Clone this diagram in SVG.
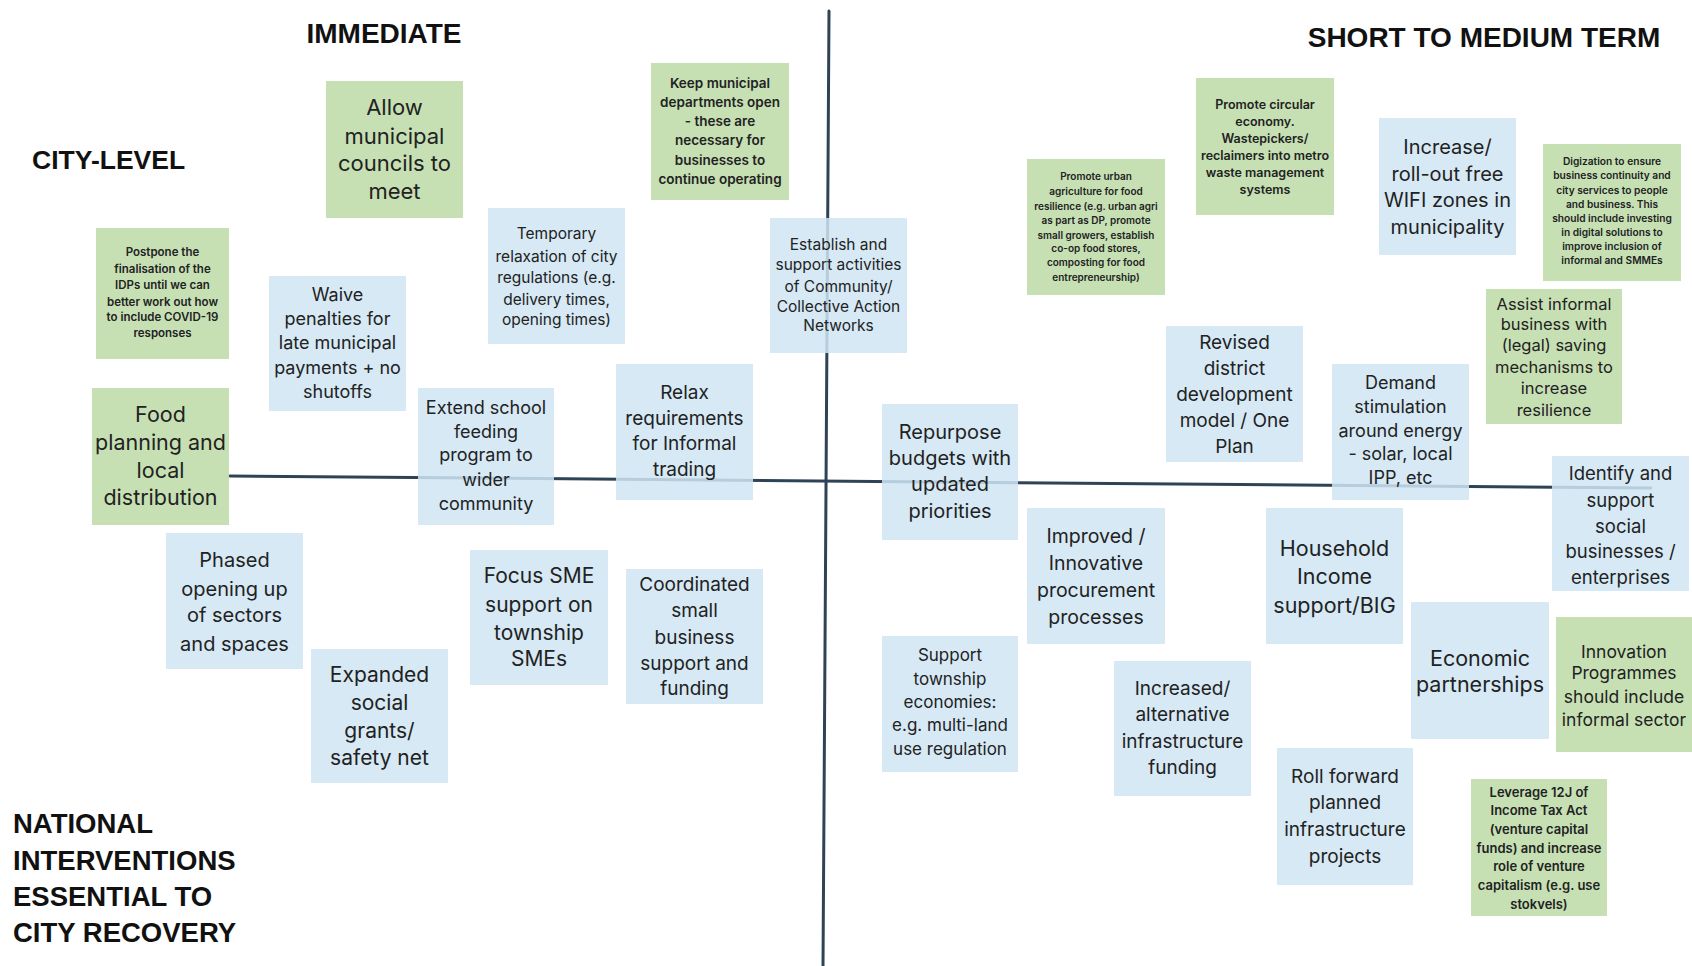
<svg xmlns="http://www.w3.org/2000/svg" width="1692" height="966" viewBox="0 0 1692 966">
<style>
.bg{fill:#ffffff}
.ax{stroke:#2f4356;stroke-width:3;fill:none;stroke-linecap:round}
.g{fill:#bcdba7;fill-opacity:0.85}
.b{fill:#cfe5f3;fill-opacity:0.85}
.t{font-family:Inter,"Open Sans","Liberation Sans",sans-serif;fill:#222222;text-anchor:middle}
.s{font-weight:600}
.h{font-family:"Liberation Sans",Arial,sans-serif;font-weight:bold;fill:#111111}
</style>
<rect class="bg" x="0" y="0" width="1692" height="966"/>
<g id="headings">
<text class="h" x="384" y="43" font-size="28" text-anchor="middle">IMMEDIATE</text>
<text class="h" x="1484" y="47" font-size="28" text-anchor="middle">SHORT TO MEDIUM TERM</text>
<text class="h" x="32" y="169" font-size="26.5">CITY-LEVEL</text>
<text class="h" x="13" font-size="27.5"><tspan x="13" y="833">NATIONAL</tspan><tspan x="13" y="870">INTERVENTIONS</tspan><tspan x="13" y="906">ESSENTIAL TO</tspan><tspan x="13" y="942">CITY RECOVERY</tspan></text>
</g>
<g id="connectors">
<line class="ax" x1="829" y1="11" x2="823" y2="966"/>
<line class="ax" x1="230" y1="476" x2="1651" y2="488"/>
</g>
<g id="n1"><rect class="g" x="326" y="81" width="137" height="137"/><text class="t" font-size="22"><tspan x="394.5" y="115">Allow</tspan><tspan x="394.5" y="144">municipal</tspan><tspan x="394.5" y="171">councils to</tspan><tspan x="394.5" y="199">meet</tspan></text></g>
<g id="n2"><rect class="g" x="651" y="63" width="138" height="137"/><text class="t s" font-size="13.5"><tspan x="720" y="88">Keep municipal</tspan><tspan x="720" y="107">departments open</tspan><tspan x="720" y="126">- these are</tspan><tspan x="720" y="145">necessary for</tspan><tspan x="720" y="165">businesses to</tspan><tspan x="720" y="184">continue operating</tspan></text></g>
<g id="n3"><rect class="g" x="96" y="228" width="133" height="131"/><text class="t s" font-size="11.5"><tspan x="162.5" y="256">Postpone the</tspan><tspan x="162.5" y="273">finalisation of the</tspan><tspan x="162.5" y="289">IDPs until we can</tspan><tspan x="162.5" y="306">better work out how</tspan><tspan x="162.5" y="321">to include COVID-19</tspan><tspan x="162.5" y="337">responses</tspan></text></g>
<g id="n4"><rect class="b" x="269" y="276" width="137" height="135"/><text class="t" font-size="18"><tspan x="337.5" y="301">Waive</tspan><tspan x="337.5" y="325">penalties for</tspan><tspan x="337.5" y="349">late municipal</tspan><tspan x="337.5" y="374">payments + no</tspan><tspan x="337.5" y="398">shutoffs</tspan></text></g>
<g id="n5"><rect class="b" x="488" y="208" width="137" height="136"/><text class="t" font-size="15.5"><tspan x="556.5" y="239">Temporary</tspan><tspan x="556.5" y="262">relaxation of city</tspan><tspan x="556.5" y="283">regulations (e.g.</tspan><tspan x="556.5" y="305">delivery times,</tspan><tspan x="556.5" y="325">opening times)</tspan></text></g>
<g id="n6"><rect class="b" x="770" y="218" width="137" height="135"/><text class="t" font-size="15.5"><tspan x="838.5" y="250">Establish and</tspan><tspan x="838.5" y="270">support activities</tspan><tspan x="838.5" y="292">of Community/</tspan><tspan x="838.5" y="312">Collective Action</tspan><tspan x="838.5" y="331">Networks</tspan></text></g>
<g id="n7"><rect class="g" x="92" y="388" width="137" height="137"/><text class="t" font-size="21.5"><tspan x="160.5" y="422">Food</tspan><tspan x="160.5" y="450">planning and</tspan><tspan x="160.5" y="478">local</tspan><tspan x="160.5" y="505">distribution</tspan></text></g>
<g id="n8"><rect class="b" x="418" y="388" width="136" height="137"/><text class="t" font-size="18"><tspan x="486" y="414">Extend school</tspan><tspan x="486" y="438">feeding</tspan><tspan x="486" y="461">program to</tspan><tspan x="486" y="486">wider</tspan><tspan x="486" y="510">community</tspan></text></g>
<g id="n9"><rect class="b" x="616" y="364" width="137" height="136"/><text class="t" font-size="19"><tspan x="684.5" y="399">Relax</tspan><tspan x="684.5" y="425">requirements</tspan><tspan x="684.5" y="450">for Informal</tspan><tspan x="684.5" y="476">trading</tspan></text></g>
<g id="n10"><rect class="b" x="166" y="533" width="137" height="136"/><text class="t" font-size="20"><tspan x="234.5" y="567">Phased</tspan><tspan x="234.5" y="596">opening up</tspan><tspan x="234.5" y="622">of sectors</tspan><tspan x="234.5" y="651">and spaces</tspan></text></g>
<g id="n11"><rect class="b" x="470" y="550" width="138" height="135"/><text class="t" font-size="21"><tspan x="539" y="583">Focus SME</tspan><tspan x="539" y="612">support on</tspan><tspan x="539" y="640">township</tspan><tspan x="539" y="666">SMEs</tspan></text></g>
<g id="n12"><rect class="b" x="626" y="569" width="137" height="135"/><text class="t" font-size="19"><tspan x="694.5" y="591">Coordinated</tspan><tspan x="694.5" y="617">small</tspan><tspan x="694.5" y="644">business</tspan><tspan x="694.5" y="670">support and</tspan><tspan x="694.5" y="695">funding</tspan></text></g>
<g id="n13"><rect class="b" x="311" y="649" width="137" height="134"/><text class="t" font-size="21"><tspan x="379.5" y="682">Expanded</tspan><tspan x="379.5" y="710">social</tspan><tspan x="379.5" y="738">grants/</tspan><tspan x="379.5" y="765">safety net</tspan></text></g>
<g id="n14"><rect class="g" x="1027" y="159" width="138" height="136"/><text class="t s" font-size="10"><tspan x="1096" y="180">Promote urban</tspan><tspan x="1096" y="195">agriculture for food</tspan><tspan x="1096" y="210">resilience (e.g. urban agri</tspan><tspan x="1096" y="224">as part as DP, promote</tspan><tspan x="1096" y="239">small growers, establish</tspan><tspan x="1096" y="252">co-op food stores,</tspan><tspan x="1096" y="266">composting for food</tspan><tspan x="1096" y="281">entrepreneurship)</tspan></text></g>
<g id="n15"><rect class="g" x="1196" y="78" width="138" height="137"/><text class="t s" font-size="12.5"><tspan x="1265" y="108.5">Promote circular</tspan><tspan x="1265" y="125.5">economy.</tspan><tspan x="1265" y="142.5">Wastepickers/</tspan><tspan x="1265" y="159.5">reclaimers into metro</tspan><tspan x="1265" y="176.5">waste management</tspan><tspan x="1265" y="193.5">systems</tspan></text></g>
<g id="n16"><rect class="b" x="1379" y="118" width="137" height="137"/><text class="t" font-size="20"><tspan x="1447.5" y="154">Increase/</tspan><tspan x="1447.5" y="181">roll-out free</tspan><tspan x="1447.5" y="207">WIFI zones in</tspan><tspan x="1447.5" y="234">municipality</tspan></text></g>
<g id="n17"><rect class="g" x="1543" y="144" width="138" height="137"/><text class="t s" font-size="10.2"><tspan x="1612" y="165">Digization to ensure</tspan><tspan x="1612" y="179">business continuity and</tspan><tspan x="1612" y="194">city services to people</tspan><tspan x="1612" y="208">and business. This</tspan><tspan x="1612" y="222">should include investing</tspan><tspan x="1612" y="236">in digital solutions to</tspan><tspan x="1612" y="250">improve inclusion of</tspan><tspan x="1612" y="264">informal and SMMEs</tspan></text></g>
<g id="n18"><rect class="g" x="1486" y="289" width="136" height="135"/><text class="t" font-size="16.5"><tspan x="1554" y="310">Assist informal</tspan><tspan x="1554" y="330">business with</tspan><tspan x="1554" y="351">(legal) saving</tspan><tspan x="1554" y="373">mechanisms to</tspan><tspan x="1554" y="394">increase</tspan><tspan x="1554" y="416">resilience</tspan></text></g>
<g id="n19"><rect class="b" x="1166" y="326" width="137" height="136"/><text class="t" font-size="19"><tspan x="1234.5" y="349">Revised</tspan><tspan x="1234.5" y="375">district</tspan><tspan x="1234.5" y="401">development</tspan><tspan x="1234.5" y="427">model / One</tspan><tspan x="1234.5" y="453">Plan</tspan></text></g>
<g id="n20"><rect class="b" x="1332" y="364" width="137" height="136"/><text class="t" font-size="18"><tspan x="1400.5" y="389">Demand</tspan><tspan x="1400.5" y="413">stimulation</tspan><tspan x="1400.5" y="437">around energy</tspan><tspan x="1400.5" y="460">- solar, local</tspan><tspan x="1400.5" y="484">IPP, etc</tspan></text></g>
<g id="n21"><rect class="b" x="882" y="404" width="136" height="136"/><text class="t" font-size="20"><tspan x="950" y="439">Repurpose</tspan><tspan x="950" y="465">budgets with</tspan><tspan x="950" y="491">updated</tspan><tspan x="950" y="518">priorities</tspan></text></g>
<g id="n22"><rect class="b" x="1552" y="456" width="137" height="135"/><text class="t" font-size="18.5"><tspan x="1620.5" y="480">Identify and</tspan><tspan x="1620.5" y="507">support</tspan><tspan x="1620.5" y="533">social</tspan><tspan x="1620.5" y="558">businesses /</tspan><tspan x="1620.5" y="584">enterprises</tspan></text></g>
<g id="n23"><rect class="b" x="1027" y="508" width="138" height="136"/><text class="t" font-size="19.5"><tspan x="1096" y="543">Improved /</tspan><tspan x="1096" y="570">Innovative</tspan><tspan x="1096" y="597">procurement</tspan><tspan x="1096" y="624">processes</tspan></text></g>
<g id="n24"><rect class="b" x="1266" y="508" width="137" height="136"/><text class="t" font-size="21.5"><tspan x="1334.5" y="556">Household</tspan><tspan x="1334.5" y="584">Income</tspan><tspan x="1334.5" y="613">support/BIG</tspan></text></g>
<g id="n25"><rect class="b" x="882" y="636" width="136" height="136"/><text class="t" font-size="17"><tspan x="950" y="661">Support</tspan><tspan x="950" y="685">township</tspan><tspan x="950" y="708">economies:</tspan><tspan x="950" y="731">e.g. multi-land</tspan><tspan x="950" y="755">use regulation</tspan></text></g>
<g id="n26"><rect class="b" x="1114" y="661" width="137" height="135"/><text class="t" font-size="19"><tspan x="1182.5" y="695">Increased/</tspan><tspan x="1182.5" y="721">alternative</tspan><tspan x="1182.5" y="748">infrastructure</tspan><tspan x="1182.5" y="774">funding</tspan></text></g>
<g id="n27"><rect class="b" x="1411" y="602" width="138" height="137"/><text class="t" font-size="21.5"><tspan x="1480" y="666">Economic</tspan><tspan x="1480" y="692">partnerships</tspan></text></g>
<g id="n28"><rect class="g" x="1556" y="617" width="136" height="135"/><text class="t" font-size="17.5"><tspan x="1624" y="658">Innovation</tspan><tspan x="1624" y="679">Programmes</tspan><tspan x="1624" y="703">should include</tspan><tspan x="1624" y="726">informal sector</tspan></text></g>
<g id="n29"><rect class="b" x="1277" y="748" width="136" height="137"/><text class="t" font-size="19"><tspan x="1345" y="783">Roll forward</tspan><tspan x="1345" y="809">planned</tspan><tspan x="1345" y="836">infrastructure</tspan><tspan x="1345" y="863">projects</tspan></text></g>
<g id="n30"><rect class="g" x="1471" y="779" width="136" height="137"/><text class="t s" font-size="13"><tspan x="1539" y="796.5">Leverage 12J of</tspan><tspan x="1539" y="815">Income Tax Act</tspan><tspan x="1539" y="834">(venture capital</tspan><tspan x="1539" y="852.5">funds) and increase</tspan><tspan x="1539" y="871">role of venture</tspan><tspan x="1539" y="890">capitalism (e.g. use</tspan><tspan x="1539" y="908.5">stokvels)</tspan></text></g>
</svg>
